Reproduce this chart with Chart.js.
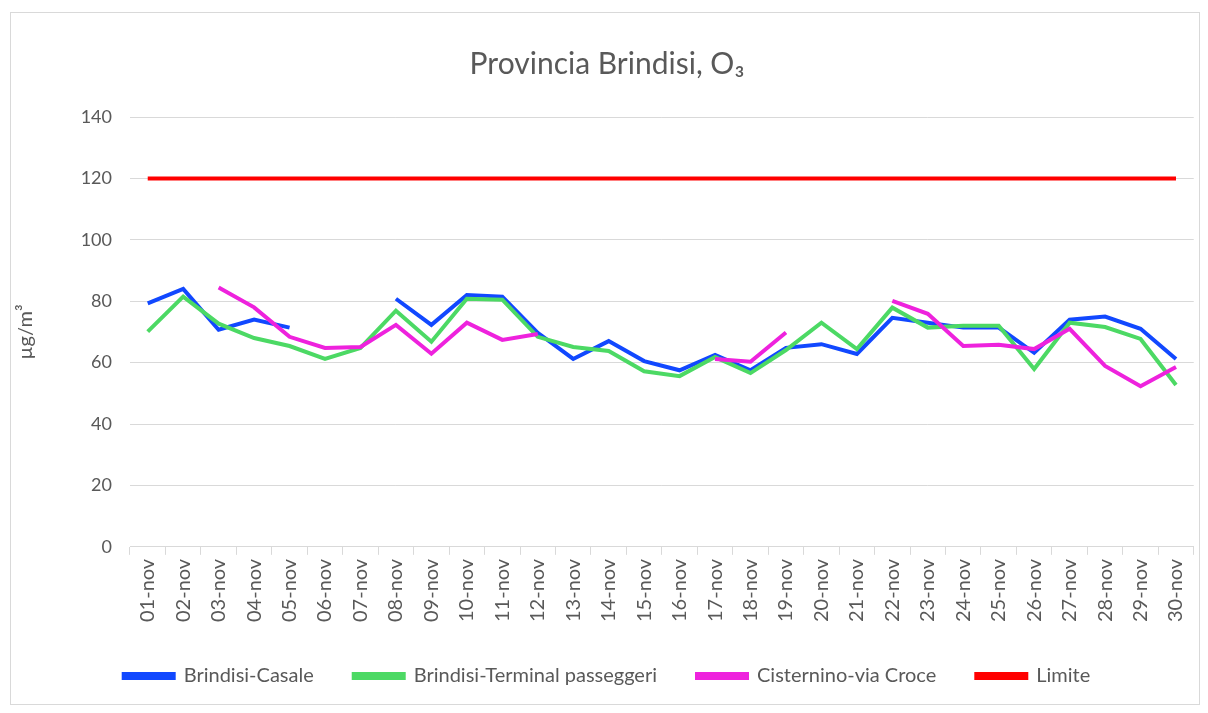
<!DOCTYPE html>
<html>
<head>
<meta charset="utf-8">
<script src="https://cdn.jsdelivr.net/npm/chart.js@4"></script>
<style>
  body { margin: 0; background: #fff; }
  .box { position: absolute; left: 10px; top: 12px; width: 1188px; height: 691px; border: 1px solid #d9d9d9; }
  #o3Chart { position: absolute; left: 10px; top: 12px; }
</style>
</head>
<body>
<div class="box"></div>
<canvas id="o3Chart" width="1194" height="691"></canvas>
<script>
// giorni di novembre
var labels = [];
for (var d = 1; d <= 30; d++) labels.push((d < 10 ? '0' + d : '' + d) + '-nov');

var casale = [79.3, 84, 70.7, 74, 71.4, null, null, 80.8, 72.3, 82, 81.5, 69.7, 61.2, 67, 60.5,
  57.5, 62.5, 57.5, 64.8, 66, 62.8, 74.6, 73, 71.4, 71.4, 63.2, 74, 75, 71, 61.2];
var terminal = [70.1, 81.5, 72.7, 68, 65.4, 61.2, 64.8, 76.9, 66.8, 80.8, 80.5, 68.4, 65.1, 63.8, 57.2,
  55.6, 61.8, 56.6, 64.1, 73, 64.4, 77.9, 71.4, 72, 72, 57.9, 73, 71.6, 67.7, 52.7];
var cisternino = [null, null, 84.5, 78, 68.4, 64.8, 65.1, 72.3, 62.9, 73, 67.4, 69.3, null, null, null,
  null, 61.2, 60.3, 69.8, null, null, 80.1, 75.9, 65.4, 65.8, 64.4, 71, 58.9, 52.3, 58.6];
var limite = labels.map(function () { return 120; });

var font = "Lato, 'Open Sans', sans-serif";
var grey = '#595959';

function serie(label, data, color, order) {
  return { label: label, data: data, borderColor: color, backgroundColor: color,
    borderWidth: 4, pointRadius: 0, tension: 0, spanGaps: false, order: order };
}

const config = {
  type: 'line',
  data: {
    labels: labels,
    datasets: [
      serie('Brindisi-Casale', casale, '#1148ff', 4),
      serie('Brindisi-Terminal passeggeri', terminal, '#4cd964', 3),
      serie('Cisternino-via Croce', cisternino, '#ee22dd', 2),
      serie('Limite', limite, '#ff0000', 1)
    ]
  },
  options: {
    responsive: false,
    animation: false,
    layout: { padding: { left: 0, right: 0, top: 0, bottom: 7 } },
    plugins: {
      title: {
        display: true,
        text: 'Provincia Brindisi, O₃',
        color: grey,
        font: { family: font, size: 30, weight: 'normal' },
        padding: { top: 34, bottom: 35 }
      },
      legend: {
        position: 'bottom',
        labels: {
          color: grey,
          font: { family: font, size: 20 },
          boxWidth: 50,
          boxHeight: 4,
          padding: 40,
          sort: function (a, b) { return a.datasetIndex - b.datasetIndex; }
        }
      },
      tooltip: { enabled: false }
    },
    scales: {
      x: {
        offset: true,
        grid: { drawOnChartArea: false, drawTicks: true, tickLength: 8, color: '#d9d9d9', offset: true },
        border: { color: '#d9d9d9' },
        ticks: { color: grey, font: { family: font, size: 20 }, minRotation: 90, maxRotation: 90, autoSkip: false, padding: 4 }
      },
      y: {
        min: 0,
        max: 140,
        ticks: { stepSize: 20, color: grey, font: { family: font, size: 18 }, padding: 18 },
        grid: { color: '#d9d9d9', drawTicks: false },
        border: { display: false },
        title: { display: true, text: 'µg/m³', color: grey, font: { family: font, size: 20 } },
        afterFit: function (scale) { scale.width = 120; }
      }
    }
  }
};

const o3Chart = new Chart(document.getElementById('o3Chart'), config);
</script>
</body>
</html>
